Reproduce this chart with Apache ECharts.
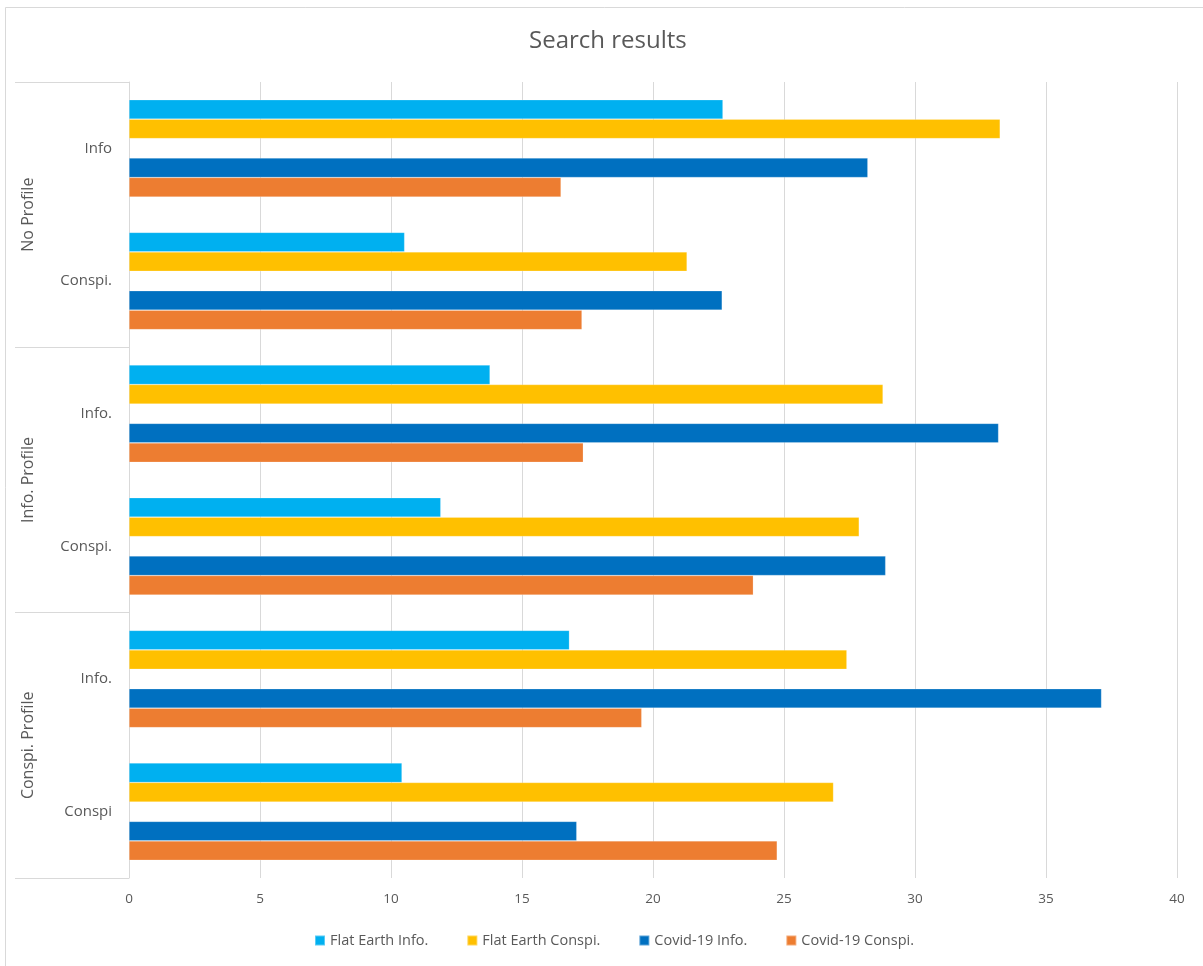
<!DOCTYPE html>
<html>
<head>
<meta charset="utf-8">
<title>Search results</title>
<script src="https://cdn.jsdelivr.net/npm/echarts@6/dist/echarts.min.js"></script>
<style>
  html, body { margin: 0; padding: 0; background: #ffffff; }
  #chart { width: 1203px; height: 966px; }
</style>
</head>
<body>
<div id="chart"></div>
<script>
// Inner (search type) and outer (profile) category levels, top to bottom
const searchTypes = ['Info', 'Conspi.', 'Info.', 'Conspi.', 'Info.', 'Conspi'];
const profiles = ['No Profile', 'Info. Profile', 'Conspi. Profile'];

const seriesNames = ['Flat Earth Info.', 'Flat Earth Conspi.', 'Covid-19 Info.', 'Covid-19 Conspi.'];
const seriesColors = ['#00B0F0', '#FFC000', '#0070C0', '#ED7D31'];

const flatEarthInfo    = [22.67, 10.52, 13.78, 11.90, 16.81, 10.42];
const flatEarthConspi  = [33.25, 21.30, 28.78, 27.87, 27.40, 26.89];
const covidInfo        = [28.20, 22.64, 33.19, 28.88, 37.12, 17.09];
const covidConspi      = [16.49, 17.29, 17.34, 23.83, 19.57, 24.74];

const xTicks = [0, 5, 10, 15, 20, 25, 30, 35, 40];

const FONT = '"Open Sans", "Noto Sans", sans-serif';
const TEXT = '#595959';
const GRID = '#d9d9d9';

const chart = echarts.init(document.getElementById('chart'), null, { renderer: 'canvas' });

function barSeries(name, color, values) {
  return {
    name: name,
    type: 'bar',
    data: values,
    barGap: '0%',
    barCategoryGap: '26.7%',
    itemStyle: { color: color, borderColor: 'rgba(255,255,255,0.35)', borderWidth: 0.6 },
    silent: true
  };
}

// empty slot between the Flat Earth pair and the Covid-19 pair
const spacer = {
  name: 'spacer',
  type: 'bar',
  data: searchTypes.map(() => '-'),
  barGap: '0%',
  barCategoryGap: '26.7%',
  silent: true
};

chart.setOption({
  backgroundColor: '#ffffff',
  animation: false,
  title: {
    text: 'Search results',
    left: 524,
    top: 24,
    textStyle: { fontFamily: FONT, fontSize: 24, fontWeight: 'normal', color: TEXT }
  },
  legend: {
    data: seriesNames,
    bottom: 13,
    left: 309,
    icon: 'rect',
    itemWidth: 10,
    itemHeight: 10,
    itemGap: 38,
    textStyle: { fontFamily: FONT, fontSize: 14.5, color: TEXT }
  },
  grid: { left: 129, right: 26, top: 82, bottom: 88, containLabel: false },
  xAxis: {
    type: 'value',
    min: xTicks[0],
    max: xTicks[xTicks.length - 1],
    interval: 5,
    axisLine: { show: false },
    axisTick: { show: false },
    axisLabel: { fontFamily: FONT, fontSize: 13.5, color: TEXT, margin: 14 },
    splitLine: { show: true, lineStyle: { color: GRID, width: 1 } }
  },
  yAxis: [
    {
      type: 'category',
      data: searchTypes,
      inverse: true,
      position: 'left',
      axisLine: { show: true, lineStyle: { color: GRID, width: 1 } },
      axisTick: { show: false },
      axisLabel: { fontFamily: FONT, fontSize: 15, color: TEXT, margin: 17 },
      splitLine: { show: false }
    },
    {
      type: 'category',
      data: profiles,
      inverse: true,
      position: 'left',
      offset: 0,
      axisLine: { show: false },
      axisTick: { show: true, length: 114, lineStyle: { color: GRID, width: 1 } },
      axisLabel: { fontFamily: FONT, fontSize: 16, color: TEXT, rotate: 90, margin: 93 },
      splitLine: { show: false }
    }
  ],
  graphic: [
    {
      type: 'rect',
      shape: { x: 5.5, y: 7.5, width: 1220, height: 980 },
      style: { fill: 'none', stroke: GRID, lineWidth: 1 },
      silent: true
    }
  ],
  series: [
    barSeries(seriesNames[0], seriesColors[0], flatEarthInfo),
    barSeries(seriesNames[1], seriesColors[1], flatEarthConspi),
    spacer,
    barSeries(seriesNames[2], seriesColors[2], covidInfo),
    barSeries(seriesNames[3], seriesColors[3], covidConspi)
  ]
});
</script>
</body>
</html>
